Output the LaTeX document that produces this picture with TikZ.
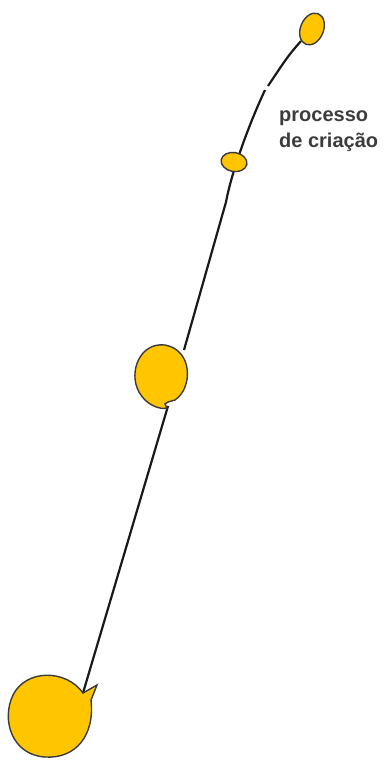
\documentclass[tikz,border=0pt]{standalone}
\usepackage{fontspec}
\setmainfont{Liberation Sans}
\definecolor{balloon}{HTML}{FFC600}
\definecolor{outl}{HTML}{3A3A3A}
\definecolor{txt}{HTML}{3C3C3C}
\begin{document}
\begin{tikzpicture}[x=1pt,y=-1pt,
  stringline/.style={line width=2.2pt,black!90},
  balloonshape/.style={fill=balloon,draw=outl,line width=1.4pt},
  label/.style={font=\fontsize{20}{26}\selectfont\bfseries,text=txt,align=left,inner sep=0pt,anchor=base west}]
\useasboundingbox (0,0) rectangle (388,761);
% string end points
\coordinate (topknot) at (301,41);
\coordinate (breakA) at (268,86);
\coordinate (breakB) at (265,90);
\coordinate (smallc) at (234,162);
\coordinate (lowbend) at (226,202);
\coordinate (midedge) at (184,350);
\coordinate (midknot) at (168,406);
\coordinate (botknot) at (83,693);
% strings
\draw[stringline] (topknot) .. controls (288,56) .. (breakA);
\draw[stringline] (breakB) .. controls (250,122) and (232,170) .. (lowbend) -- (midedge);
\draw[stringline] (midknot) -- (botknot);
% top balloon
\draw[balloonshape,rotate around={-22:(312,29)}] (312,29) ellipse [x radius=11.5, y radius=16.5];
% small balloon
\draw[balloonshape,rotate around={-10:(234,162)}] (smallc) ellipse [x radius=13, y radius=9.5];
% middle balloon
\draw[balloonshape] (168,402) -- (175,400)
  .. controls (193,388) and (193,350) .. (165,345)
  .. controls (140,342) and (128,372) .. (139,392)
  .. controls (146,405) and (160,410) .. (167,408)
  -- (165,404) -- cycle;
% bottom balloon
\draw[balloonshape] (91,700) -- (97,685) -- (83,693)
  .. controls (66,669) and (26,669) .. (13,695)
  .. controls (1,720) and (12,755) .. (45,757)
  .. controls (76,759) and (95,735) .. cycle;
% label
\node[label] (lbl) at (279,147) {processo\\de criação};
\end{tikzpicture}
\end{document}
